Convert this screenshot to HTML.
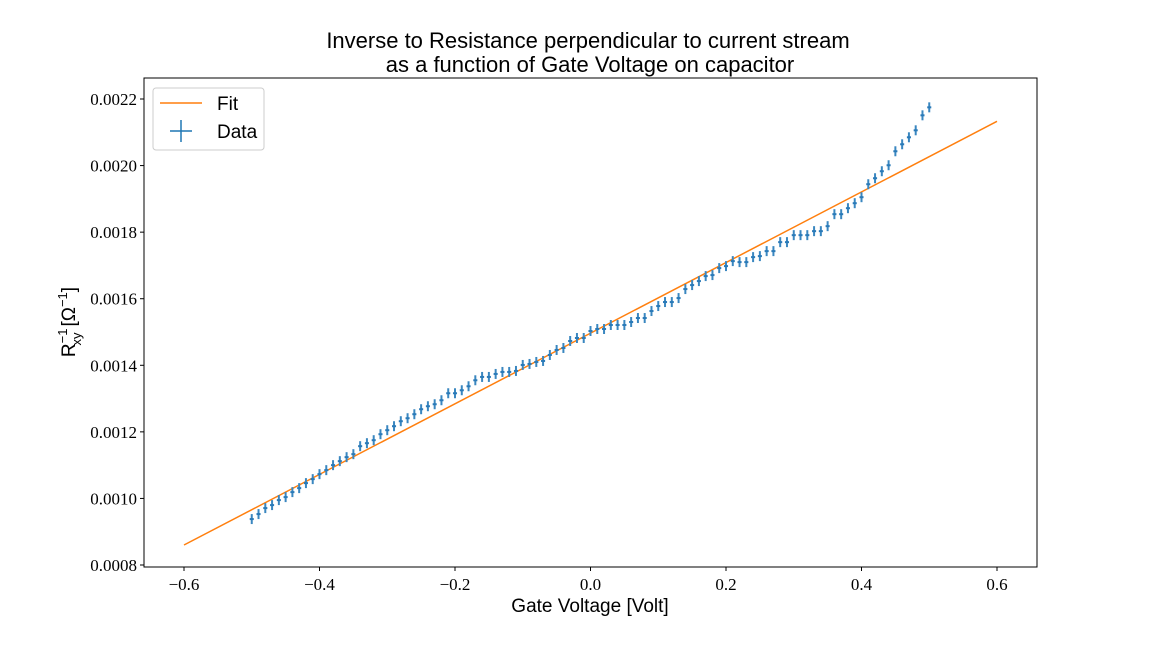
<!DOCTYPE html>
<html><head><meta charset="utf-8"><style>
body{margin:0;background:#fff;}
svg text{font-family:"Liberation Sans",sans-serif;fill:#000;}
.tick{font-family:"Liberation Serif",serif;font-size:17px;}
</style></head><body>
<svg id="chart" width="1152" height="648" viewBox="0 0 1152 648">
<rect width="1152" height="648" fill="#fff"/>
<text x="588" y="48" text-anchor="middle" font-size="22">Inverse to Resistance perpendicular to current stream</text>
<text x="590" y="72" text-anchor="middle" font-size="22">as a function of Gate Voltage on capacitor</text>
<g id="xticks"></g>
<g id="yticks"></g>
<g id="fit"></g>
<g id="data"></g>
<rect x="144" y="78" width="893" height="489" fill="none" stroke="#000" stroke-width="1"/>
<text x="590" y="612" text-anchor="middle" font-size="19">Gate Voltage [Volt]</text>
<text transform="translate(75,322) rotate(-90)" text-anchor="middle" font-size="19">R<tspan font-size="13" dy="-8">−1</tspan><tspan font-size="13" dx="-17" dy="14">xy</tspan><tspan dx="6" dy="-6">[Ω</tspan><tspan font-size="13" dy="-8">−1</tspan><tspan dy="8">]</tspan></text>
<g>
<rect x="153" y="88" width="111" height="62" rx="3" fill="#fff" stroke="#ccc"/>
<line x1="160" y1="103" x2="202" y2="103" stroke="#ff7f0e" stroke-width="1.5"/>
<text x="217" y="110" font-size="19">Fit</text>
<line x1="181" y1="120" x2="181" y2="142" stroke="#1f77b4" stroke-width="1.5"/>
<line x1="170" y1="131" x2="192" y2="131" stroke="#1f77b4" stroke-width="1.5"/>
<text x="217" y="138" font-size="19">Data</text>
</g>
</svg>
<script>
const xTickValues=[-0.6,-0.4,-0.2,0.0,0.2,0.4,0.6];
const xTickLabels=["−0.6","−0.4","−0.2","0.0","0.2","0.4","0.6"];
const yTickValues=[0.0008,0.0010,0.0012,0.0014,0.0016,0.0018,0.0020,0.0022];
const yTickLabels=["0.0008","0.0010","0.0012","0.0014","0.0016","0.0018","0.0020","0.0022"];
const fitSlope=0.0010608;
const fitIntercept=0.0014965;
const fitRange=[-0.6,0.6];
const dataStart=-0.5, dataStep=0.01;
const dataValues=[9.38,9.53,9.71,9.80,9.95,10.04,10.19,10.31,10.46,10.58,10.73,10.85,11.00,11.12,11.24,11.33,11.57,11.66,11.75,11.93,12.05,12.17,12.32,12.41,12.53,12.68,12.77,12.83,12.95,13.16,13.16,13.25,13.37,13.55,13.65,13.65,13.74,13.80,13.80,13.83,14.01,14.04,14.10,14.13,14.31,14.46,14.52,14.73,14.82,14.82,15.03,15.09,15.09,15.21,15.21,15.21,15.30,15.42,15.42,15.63,15.78,15.90,15.90,16.02,16.29,16.41,16.53,16.68,16.71,16.92,16.98,17.13,17.10,17.10,17.25,17.28,17.43,17.43,17.70,17.70,17.91,17.91,17.91,18.03,18.03,18.18,18.54,18.54,18.72,18.87,19.05,19.44,19.62,19.83,20.01,20.43,20.64,20.85,21.06,21.51,21.75];
const dataScale=1e-4;
const yErr=0.000015, xErr=0.003;

const NS="http://www.w3.org/2000/svg";
function X(v){return 590.5+(v)*677.5;}
function Y(v){return 565-(v-0.0008)/0.0002*66.57;}
function mk(tag,attrs,parent){const e=document.createElementNS(NS,tag);for(const k in attrs)e.setAttribute(k,attrs[k]);parent.appendChild(e);return e;}
const xt=document.getElementById('xticks'),yt=document.getElementById('yticks');
xTickValues.forEach((v,i)=>{
 const l=mk('line',{x1:X(v),x2:X(v),y1:567,y2:571,stroke:'#000'},xt);
 
 
 const t=mk('text',{x:X(v),y:590,'text-anchor':'middle',class:'tick'},xt);
 t.textContent=xTickLabels[i];
 
 
});
yTickValues.forEach((v,i)=>{
 const l=mk('line',{x1:140,x2:144,y1:Y(v),y2:Y(v),stroke:'#000'},yt);
 
 
 const t=mk('text',{x:137,y:Y(v)+6,'text-anchor':'end',class:'tick'},yt);
 t.textContent=yTickLabels[i];
 
 
});
const fl=mk('line',{x1:X(fitRange[0]),y1:Y(fitIntercept+fitSlope*fitRange[0]),x2:X(fitRange[1]),y2:Y(fitIntercept+fitSlope*fitRange[1]),stroke:'#ff7f0e','stroke-width':1.5},document.getElementById('fit'));


const dg=document.getElementById('data');
dataValues.forEach((d,i)=>{
 const x=dataStart+i*dataStep, y=d*dataScale;
 const g=mk('g',{},dg);
 
 
 mk('line',{x1:X(x),x2:X(x),y1:Y(y-yErr),y2:Y(y+yErr),stroke:'#3a87c0','stroke-width':2},g);
 mk('line',{x1:X(x-xErr),x2:X(x+xErr),y1:Y(y),y2:Y(y),stroke:'#2a7ab8','stroke-width':2},g);
});
</script>
</body></html>
